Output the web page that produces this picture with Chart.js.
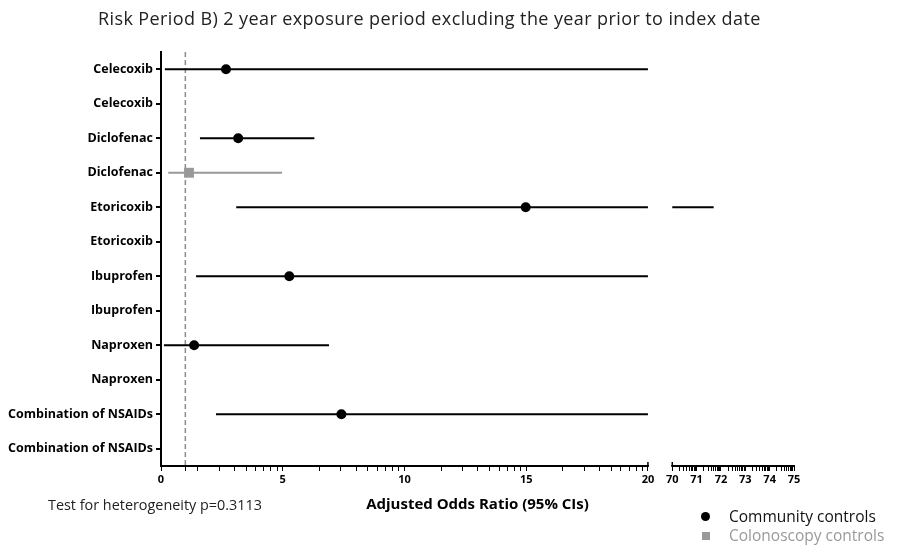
<!DOCTYPE html>
<html>
<head>
<meta charset="utf-8">
<script src="https://cdn.jsdelivr.net/npm/chart.js@4.4.1/dist/chart.umd.min.js"></script>
<style>
  body { margin: 0; background: #fff; font-family: "Open Sans", sans-serif; }
  #wrap { position: relative; width: 907px; height: 549px; }
  #title { position: absolute; left: 98px; top: 7px; font-size: 18px; letter-spacing: 0.4px; line-height: 22px; color: #222; white-space: nowrap; }
  #note { position: absolute; left: 48px; top: 496px; font-size: 14.4px; line-height: 18px; color: #222; white-space: nowrap; }
  .leg { position: absolute; left: 701px; font-size: 15.5px; line-height: 18px; white-space: nowrap; }
  .leg i { display: inline-block; margin-right: 19px; vertical-align: middle; position: relative; top: -1px; }
  #leg1 { top: 507px; color: #111; }
  #leg1 i { width: 9px; height: 9px; border-radius: 50%; background: #000; }
  #leg2 { top: 526px; color: #999; }
  #leg2 i { width: 8px; height: 8px; background: #999; margin-left: 1px; }
</style>
</head>
<body>
<div id="wrap">
  <canvas id="c" width="907" height="549"></canvas>
  <div id="title">Risk Period B) 2 year exposure period excluding the year prior to index date</div>
  <div id="note">Test for heterogeneity p=0.3113</div>
  <div class="leg" id="leg1"><i></i>Community controls</div>
  <div class="leg" id="leg2"><i></i>Colonoscopy controls</div>
</div>
<script>
// ── data ─────────────────────────────────────────────────────────────
const drugs = ["Celecoxib", "Diclofenac", "Etoricoxib", "Ibuprofen", "Naproxen", "Combination of NSAIDs"];
// community controls (upper limits between 20 and 70 are cut at the axis break)
const communityOR   = [2.67, 3.17, 14.98, 5.27, 1.36, 7.41];
const communityLow  = [0.16, 1.60, 3.09, 1.44, 0.12, 2.26];
const communityHigh = [40, 6.30, 71.7, 40, 6.90, 40];
// colonoscopy controls
const colonOR   = [null, 1.15, null, null, null, null];
const colonLow  = [null, 0.30, null, null, null, null];
const colonHigh = [null, 4.97, null, null, null, null];
// x axis: 0–20, break, 70–75
const majorTicks = [0, 5, 10, 15, 20];
const brokenTicks = [70, 71, 72, 73, 74, 75];
const refLine = 1;

// each drug gets two rows: community, then colonoscopy
const rowLabels = drugs.flatMap(d => [d, d]);

// map a real OR onto the broken axis (70 sits one unit after 20)
const BREAK_LO = 20, BREAK_HI = 70, GAP = 1;
const toAxis = v => v <= BREAK_LO ? v : v >= BREAK_HI ? v - BREAK_HI + BREAK_LO + GAP : BREAK_LO;
const fromAxis = a => a <= BREAK_LO ? a : a - BREAK_LO - GAP + BREAK_HI;
const axisMax = toAxis(brokenTicks[brokenTicks.length - 1]);

function ciSegments(lo, hi) {
  const segs = [[toAxis(lo), toAxis(Math.min(hi, BREAK_LO))]];
  if (hi >= BREAK_HI) segs.push([toAxis(BREAK_HI), toAxis(hi)]);
  return segs;
}

const datasets = [];
function addGroup(or, lo, hi, rowOffset, color, pointStyle, radius) {
  const pts = [];
  or.forEach((v, i) => {
    if (v == null) return;
    const row = i * 2 + rowOffset;
    ciSegments(lo[i], hi[i]).forEach(([a, b]) => {
      datasets.push({
        data: [{ x: a, y: row }, { x: b, y: row }],
        borderColor: color, borderWidth: 2, pointRadius: 0, order: 2,
      });
    });
    pts.push({ x: toAxis(v), y: row });
  });
  datasets.push({
    data: pts, showLine: false, pointStyle, pointRadius: radius,
    backgroundColor: color, borderColor: color, borderWidth: 0, order: 0,
  });
}
addGroup(communityOR, communityLow, communityHigh, 0, "#000", "circle", 5);
addGroup(colonOR, colonLow, colonHigh, 1, "#999", "rect", 7);

datasets.push({
  data: [{ x: refLine, y: -0.5 }, { x: refLine, y: rowLabels.length - 0.5 }],
  borderColor: "#8c8c8c", borderWidth: 1.5, borderDash: [5, 3], pointRadius: 0, order: 3,
});

// minor ticks in a log-like pattern inside each labelled interval
function xTicks() {
  const t = [];
  for (let i = 0; i < majorTicks.length - 1; i++) {
    const a = majorTicks[i], w = majorTicks[i + 1] - a;
    t.push({ value: a, major: true });
    for (let k = 2; k <= 9; k++) t.push({ value: a + Math.log10(k) * w });
  }
  t.push({ value: refLine });
  t.push({ value: majorTicks[majorTicks.length - 1], major: true });
  for (let i = 0; i < brokenTicks.length; i++) {
    t.push({ value: toAxis(brokenTicks[i]), major: true });
    if (i < brokenTicks.length - 1)
      for (let k = 2; k <= 9; k++) t.push({ value: toAxis(brokenTicks[i]) + Math.log10(k) });
  }
  return t.sort((p, q) => p.value - q.value);
}

const labelSet = new Set([...majorTicks, ...brokenTicks].map(toAxis));

// x axis line with a gap at the break
const brokenAxis = {
  id: "brokenAxis",
  afterDraw(chart) {
    const { ctx, chartArea, scales: { x } } = chart;
    const y = chartArea.bottom;
    ctx.save();
    ctx.strokeStyle = "#000";
    ctx.lineWidth = 2;
    [[0, BREAK_LO], [toAxis(BREAK_HI), axisMax]].forEach(([a, b]) => {
      ctx.beginPath();
      ctx.moveTo(x.getPixelForValue(a) - 1, y);
      ctx.lineTo(x.getPixelForValue(b) + 1, y);
      ctx.stroke();
    });
    ctx.lineWidth = 1.5;
    [BREAK_LO, toAxis(BREAK_HI)].forEach(v => {
      const px = x.getPixelForValue(v);
      ctx.beginPath();
      ctx.moveTo(px, y - 4);
      ctx.lineTo(px, y);
      ctx.stroke();
    });
    ctx.restore();
  },
};

Chart.defaults.font.family = "'Open Sans', sans-serif";

new Chart(document.getElementById("c"), {
  type: "line",
  data: { datasets },
  options: {
    responsive: false,
    animation: false,
    layout: { padding: { left: 8, right: 113, top: 52, bottom: 35 } },
    plugins: { legend: { display: false }, tooltip: { enabled: false } },
    scales: {
      x: {
        type: "linear",
        min: 0,
        max: axisMax,
        afterBuildTicks: s => { s.ticks = xTicks(); },
        afterFit: s => { s.height = 48; },
        ticks: {
          autoSkip: false, maxRotation: 0, padding: 2,
          color: "#000", font: { size: 11, weight: "bold" },
          callback: v => labelSet.has(v) ? String(Math.round(fromAxis(v))) : "",
        },
        grid: { drawOnChartArea: false, drawTicks: true, tickLength: 5, color: "#000", lineWidth: 1 },
        border: { display: false },
        title: {
          display: true, text: "Adjusted Odds Ratio (95% CIs)",
          color: "#000", font: { size: 15, weight: "bold" }, padding: { top: 6, bottom: 0 },
        },
      },
      y: {
        type: "linear",
        reverse: true,
        min: -0.5,
        max: rowLabels.length - 0.5,
        afterBuildTicks: s => { s.ticks = rowLabels.map((_, i) => ({ value: i })); },
        afterFit: s => { s.width = 153; },
        ticks: {
          autoSkip: false, padding: 3,
          color: "#000", font: { size: 12.5, weight: "bold" },
          callback: v => rowLabels[v] ?? "",
        },
        grid: { drawOnChartArea: false, drawTicks: true, tickLength: 5, color: "#000", lineWidth: 2 },
        border: { display: true, color: "#000", width: 2 },
      },
    },
  },
  plugins: [brokenAxis],
});
</script>
</body>
</html>
